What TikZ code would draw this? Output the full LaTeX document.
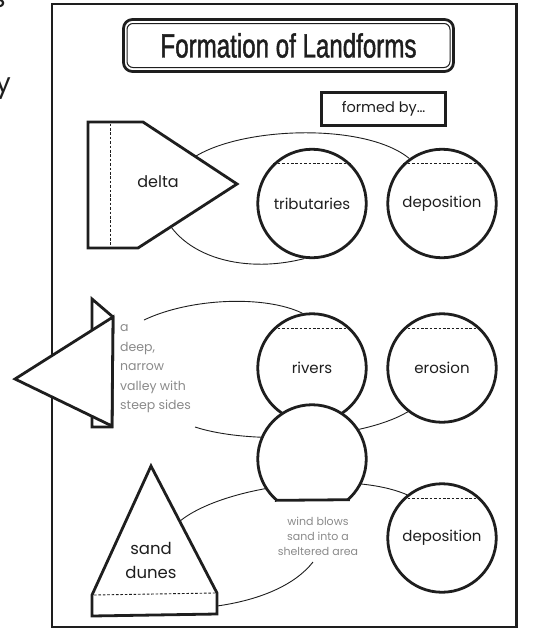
\documentclass[tikz,border=0pt]{standalone}
\usepackage{fontspec}
\setmainfont{Poppins}
\newfontfamily\titlefont[FakeStretch=0.72,FakeBold=1.3]{Liberation Sans}
\definecolor{ink}{HTML}{1E1E1E}
\definecolor{notegray}{HTML}{8A8A8A}
\pgfdeclarelayer{behind}
\pgfsetlayers{behind,main}

\begin{document}
\begin{tikzpicture}[x=1pt,y=-1pt,
  shapeline/.style={draw=ink,line width=2.8pt,fill=white,line join=miter},
  thinarc/.style={draw=ink,line width=0.9pt},
  chord/.style={draw=ink,line width=0.9pt,dash pattern=on 2.6pt off 1.8pt},
  bubble/.style={circle,shapeline,minimum size=108.5pt,inner sep=0pt,
    font=\fontsize{15}{18}\selectfont,text=ink},
  word/.style={text=ink,inner sep=0pt},
  note/.style={text=notegray,inner sep=0pt}]

\useasboundingbox (0,0) rectangle (534,629);

% letters running in from the left
\node[word,anchor=base east,font=\fontsize{27}{30}\selectfont] (fragS) at (6,7) {s};
\node[word,anchor=base east,font=\fontsize{27}{30}\selectfont] (fragY) at (11,92) {y};

% title plate
\node[draw=ink,line width=2.8pt,rounded corners=9pt,minimum width=330pt,
  minimum height=52pt] (titleframe) at (288.5,45.5) {};
\node[draw=ink,line width=1pt,rounded corners=6pt,minimum width=323pt,
  minimum height=44pt,font=\titlefont\fontsize{33.5}{36}\selectfont,text=ink]
  (title) at (288.5,45.5) {Formation of Landforms};

\node[draw=ink,line width=2.8pt,minimum width=124pt,minimum height=33pt,
  font=\fontsize{14.5}{16}\selectfont,text=ink] (formedby) at (383.5,109) {formed by…};

% ---------- delta ----------
\draw[shapeline] (88,122) -- (143,122) -- (237,184) -- (138,248) -- (88,248) -- cycle;
\draw[chord] (110,123.5) -- (110,246.5);
\node[word,font=\fontsize{16}{18}\selectfont] (delta) at (158,182) {delta};
\coordinate (deltaUp) at (180,170);
\coordinate (deltaLow) at (160,205);

\node[bubble] (trib) at (312,203.5) {tributaries};
\node[bubble] (dep1) at (442,203.5) {deposition};
\draw[chord] (trib.134) -- (trib.46);
\draw[chord] (dep1.134) -- (dep1.46);

% ---------- canyon ----------
\draw[shapeline] (92,299) -- (113,317) -- (112,427) -- (92,427) -- cycle;
\draw[shapeline] (15,379) -- (113,317) -- (112,426) -- cycle;
\node[note,anchor=north west,align=left,font=\fontsize{12.5}{19.5}\selectfont]
  (canyonnote) at (120,317.8) {\strut a\\deep,\\narrow\\valley with\\steep sides\strut};
\coordinate (canyonTop) at (144,320);
\coordinate (canyonLow) at (195,427);

\node[bubble] (rivers) at (312,368) {rivers};
\node[bubble] (erosion) at (442,368) {erosion};
\draw[chord] (rivers.134) -- (rivers.46);
\draw[chord] (erosion.134) -- (erosion.46);

% shared circle with a flat base
\begin{scope}
  \clip (240,395) rectangle (390,499);
  \node[bubble] (basin) at (312,459) {};
\end{scope}
\draw[draw=ink,line width=2.8pt] (basin.-132.8) -- (basin.-47.2);

% ---------- sand dunes ----------
\draw[shapeline] (151,466) -- (217,593) -- (217,614) -- (92,616) -- (92,595) -- cycle;
\draw[chord] (94,595) -- (215,593);
\node[word,anchor=north,align=center,font=\fontsize{16.5}{24}\selectfont]
  (dunes) at (151,537.2) {\strut sand\\dunes\strut};
\coordinate (dunesSide) at (180,521);
\coordinate (dunesFoot) at (217,606);

\node[note,anchor=north,align=center,font=\fontsize{11}{15}\selectfont]
  (windnote) at (318,515) {\strut wind blows\\sand into a\\sheltered area\strut};
\coordinate (windEnd) at (313,562);

\node[bubble] (dep3) at (442,538) {deposition};
\draw[chord] (dep3.134) -- (dep3.46);

% ---------- frame and linking arcs, underneath ----------
\begin{pgfonlayer}{behind}
  \draw[draw=ink,line width=2.2pt] (52,4) rectangle (516.5,627);
  \draw[thinarc] (deltaUp) .. controls (210,128) and (360,118) .. (dep1.126);
  \draw[thinarc] (deltaLow) .. controls (175,255) and (240,275) .. (trib.262);
  \draw[thinarc] (canyonTop) .. controls (190,298) and (265,295) .. (rivers.100);
  \draw[thinarc] (canyonLow) .. controls (250,445) and (360,440) .. (erosion.232);
  \draw[thinarc] (dunesSide) .. controls (225,485) and (350,470) .. (dep3.129);
  \draw[thinarc] (dunesFoot) .. controls (260,600) and (295,585) .. (windEnd);
\end{pgfonlayer}
\end{tikzpicture}
\end{document}
